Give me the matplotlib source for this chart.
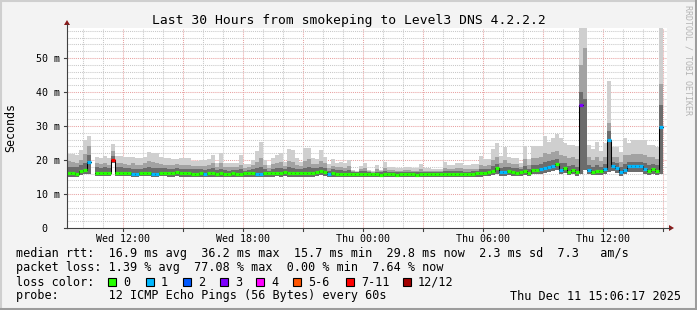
import numpy as np
import matplotlib
matplotlib.use('Agg')
from matplotlib import pyplot as plt
from matplotlib.patches import Rectangle, Polygon
from matplotlib.lines import Line2D

W, H = 697, 310
nan = np.nan

# time axis in hours since Wed 00:00, one rrd row every 12 minutes
t_start = 9.2
t_step = 0.2

# median rtt per row (ms)
median = [
    16.2, 16.2, 16.0, 16.8, 17.0, 19.3, nan, 16.3, 16.3, 16.3,
    16.3, 20.0, 16.3, 16.3, 16.2, 16.2, 16.0, 16.0, 16.2, 16.3,
    16.3, 16.0, 16.0, 16.3, 16.3, 16.2, 16.2, 16.5, 16.2, 16.2,
    16.2, 16.0, 16.0, 16.1, 15.8, 16.1, 16.1, 16.0, 16.1, 16.0,
    16.0, 16.1, 16.0, 16.0, 16.1, 16.1, 16.2, 16.0, 16.0, 16.2,
    16.1, 16.2, 16.3, 16.2, 16.4, 16.2, 16.2, 16.1, 16.1, 16.1,
    16.3, 16.3, 16.6, 16.9, 16.4, 15.9, 16.1, 16.0, 16.0, 16.0,
    16.0, 15.9, 15.9, 15.9, 15.9, 15.9, 15.8, 15.8, 15.7, 15.8,
    15.8, 15.8, 15.7, 15.8, 15.8, 15.8, 15.8, 15.7, 15.8, 15.8,
    15.8, 16.0, 16.0, 16.0, 16.0, 16.0, 16.0, 16.0, 16.0, 16.0,
    16.0, 16.0, 16.1, 16.1, 16.3, 16.6, 16.9, 17.5, 16.4, 16.4,
    16.9, 16.6, 16.3, 16.5, 16.9, 16.3, 17.1, 17.1, 17.3, 17.5,
    18.0, 18.3, 18.8, 17.1, 17.6, 16.6, 17.1, 16.4, 36.2, nan,
    17.1, 16.6, 16.9, 16.9, 17.4, 26.0, 18.1, 17.6, 16.4, 17.1,
    18.1, 18.1, 18.1, 18.1, 17.4, 16.9, 17.4, 16.9, 29.8,
]

# smoke envelope: max ping, upper edge of mid band, upper edge of dark band, min ping
smoke_max = [
    21.7, 21.7, 21.5, 22.9, 25.9, 27.1, nan, 21.0, 20.6, 21.2,
    20.6, 24.7, 21.3, 21.3, 21.0, 21.0, 21.0, 20.5, 20.6, 21.0,
    22.3, 22.0, 22.0, 20.8, 20.6, 20.6, 20.4, 20.4, 20.5, 20.5,
    20.5, 19.7, 19.7, 20.0, 20.0, 20.2, 21.5, 19.0, 22.1, 19.0,
    19.0, 19.0, 19.0, 21.5, 18.7, 18.7, 20.0, 22.5, 25.2, 20.0,
    18.5, 20.5, 21.5, 22.0, 19.5, 23.2, 22.9, 20.5, 19.5, 23.4,
    23.6, 20.5, 20.2, 22.9, 21.0, 18.7, 20.2, 19.0, 19.3, 19.0,
    20.0, 17.1, 16.8, 18.3, 19.0, 17.1, 16.8, 18.5, 17.1, 19.5,
    18.0, 17.8, 17.6, 17.6, 18.0, 18.0, 17.6, 17.6, 18.7, 17.6,
    17.6, 17.4, 17.4, 17.4, 19.5, 18.5, 18.5, 19.2, 19.2, 18.5,
    18.5, 18.7, 18.7, 21.2, 20.2, 20.2, 23.1, 25.1, 21.2, 23.9,
    21.0, 20.5, 20.7, 19.0, 24.1, 20.2, 24.1, 24.1, 24.1, 27.0,
    25.4, 26.4, 27.6, 26.4, 25.0, 24.5, 24.5, 24.0, 60.0, 60.0,
    24.5, 23.3, 25.4, 22.7, 25.0, 43.1, 23.7, 23.7, 22.2, 26.4,
    25.0, 25.9, 25.9, 25.9, 25.9, 24.5, 24.3, 23.7, 60.0,
]
smoke_mid = [
    19.6, 19.4, 19.2, 20.0, 21.8, 24.0, nan, 19.0, 18.8, 19.0,
    18.6, 22.5, 19.0, 19.2, 18.8, 18.6, 19.0, 18.6, 18.5, 19.0,
    19.8, 19.5, 19.2, 18.8, 18.6, 18.5, 18.4, 18.8, 18.5, 18.6,
    18.6, 18.2, 18.2, 18.3, 18.3, 18.5, 19.0, 17.8, 19.0, 17.9,
    17.8, 17.8, 17.9, 18.5, 17.6, 17.8, 18.4, 19.5, 20.5, 18.5,
    17.6, 18.8, 19.0, 19.3, 18.3, 19.8, 19.5, 18.6, 18.2, 19.8,
    20.2, 18.7, 18.8, 19.8, 19.0, 17.6, 18.3, 17.8, 18.0, 17.7,
    18.2, 16.8, 16.6, 17.4, 17.5, 16.8, 16.6, 17.3, 16.8, 17.6,
    17.1, 17.0, 16.9, 16.9, 17.1, 17.0, 16.9, 16.9, 17.3, 16.9,
    16.9, 16.9, 16.9, 16.9, 17.6, 17.3, 17.3, 17.5, 17.5, 17.2,
    17.2, 17.3, 17.3, 18.5, 18.3, 18.5, 20.0, 21.0, 19.0, 20.0,
    19.2, 18.8, 18.8, 18.0, 20.2, 18.5, 20.5, 20.5, 20.8, 22.0,
    21.8, 22.2, 22.6, 21.5, 21.2, 20.5, 20.8, 20.2, 48.0, 53.0,
    20.8, 20.0, 20.8, 19.8, 21.0, 31.0, 21.0, 20.8, 19.5, 21.5,
    21.5, 21.8, 21.8, 21.8, 21.5, 20.8, 20.8, 20.4, 42.3,
]
smoke_dark = [
    18.0, 18.0, 17.8, 18.5, 19.0, 21.5, nan, 17.8, 17.6, 17.8,
    17.5, 21.3, 17.8, 17.8, 17.6, 17.5, 17.4, 17.3, 17.4, 17.6,
    17.8, 17.5, 17.5, 17.5, 17.5, 17.4, 17.3, 17.6, 17.4, 17.4,
    17.4, 17.2, 17.2, 17.2, 17.0, 17.3, 17.5, 17.0, 17.4, 17.0,
    16.9, 17.0, 17.0, 17.2, 16.9, 17.0, 17.3, 17.6, 17.8, 17.4,
    16.9, 17.4, 17.6, 17.6, 17.4, 17.8, 17.6, 17.3, 17.2, 17.6,
    17.8, 17.5, 17.6, 18.0, 17.6, 16.9, 17.2, 17.0, 17.0, 16.9,
    17.1, 16.5, 16.4, 16.7, 16.8, 16.5, 16.3, 16.6, 16.4, 16.7,
    16.5, 16.5, 16.4, 16.4, 16.5, 16.5, 16.4, 16.4, 16.6, 16.4,
    16.4, 16.5, 16.5, 16.5, 16.8, 16.7, 16.7, 16.8, 16.8, 16.6,
    16.6, 16.7, 16.7, 17.2, 17.2, 17.4, 18.3, 18.8, 17.6, 17.8,
    18.0, 17.6, 17.5, 17.3, 18.2, 17.4, 18.5, 18.5, 18.8, 19.5,
    19.6, 20.0, 20.4, 19.0, 19.2, 18.3, 18.6, 18.0, 40.0, 38.0,
    18.6, 18.0, 18.4, 18.0, 18.8, 28.5, 19.4, 19.0, 17.8, 18.8,
    19.5, 19.5, 19.5, 19.5, 19.0, 18.5, 18.7, 18.4, 36.2,
]
smoke_min = [
    15.1, 15.1, 15.0, 15.5, 15.8, 16.0, nan, 15.3, 15.3, 15.3,
    15.3, 19.0, 15.2, 15.2, 15.2, 15.2, 15.0, 15.0, 15.2, 15.2,
    15.2, 15.0, 15.0, 15.2, 15.2, 15.1, 15.1, 15.3, 15.1, 15.1,
    15.1, 15.0, 15.0, 15.0, 14.9, 15.0, 15.0, 15.0, 15.0, 15.0,
    15.0, 15.0, 15.0, 15.0, 15.0, 15.0, 15.1, 15.0, 15.0, 15.1,
    15.0, 15.1, 15.2, 15.1, 15.3, 15.1, 15.1, 15.0, 15.0, 15.0,
    15.1, 15.1, 15.3, 15.5, 15.2, 15.0, 15.0, 15.0, 15.0, 15.0,
    15.0, 15.0, 15.0, 15.0, 15.0, 15.0, 15.0, 15.0, 15.0, 15.0,
    15.0, 15.0, 15.0, 15.0, 15.0, 15.0, 15.0, 15.0, 15.0, 15.0,
    15.0, 15.1, 15.1, 15.1, 15.1, 15.1, 15.1, 15.1, 15.1, 15.1,
    15.1, 15.1, 15.1, 15.1, 15.2, 15.4, 15.6, 16.0, 15.2, 15.2,
    15.5, 15.4, 15.2, 15.4, 15.6, 15.2, 15.8, 15.8, 16.0, 16.2,
    16.5, 16.8, 17.0, 15.8, 16.2, 15.5, 15.8, 15.4, 15.8, 17.0,
    15.8, 15.5, 15.6, 15.6, 16.0, 16.5, 16.8, 16.3, 15.4, 15.8,
    16.6, 16.6, 16.6, 16.6, 16.0, 15.6, 16.0, 15.6, 16.0,
]
# loss colour class per row (index into loss_labels)
loss_class = [
    0, 0, 0, 0, 0, 1, 0, 0, 0, 0,
    0, 6, 0, 0, 0, 0, 1, 1, 0, 0,
    0, 1, 1, 0, 0, 0, 0, 0, 0, 0,
    0, 0, 0, 0, 1, 0, 0, 0, 0, 0,
    0, 0, 0, 0, 0, 0, 0, 1, 1, 0,
    0, 0, 0, 0, 0, 0, 0, 0, 0, 0,
    0, 0, 0, 0, 0, 1, 0, 0, 0, 0,
    0, 0, 0, 0, 0, 0, 0, 0, 0, 0,
    0, 0, 0, 0, 0, 0, 0, 0, 0, 0,
    0, 0, 0, 0, 0, 0, 0, 0, 0, 0,
    0, 0, 0, 0, 0, 0, 0, 0, 1, 1,
    0, 0, 0, 0, 0, 0, 0, 0, 1, 1,
    1, 1, 0, 1, 0, 0, 0, 0, 3, 0,
    1, 0, 0, 0, 1, 1, 1, 1, 1, 1,
    1, 1, 1, 1, 1, 0, 0, 0, 1,
]
loss_labels = ['0', '1', '2', '3', '4', '5-6', '7-11', '12/12']
loss_colors = ['#26ff00', '#00b8ff', '#0059ff', '#7e00ff', '#ff00ff',
               '#ff5500', '#ff0000', '#a10000']

xtick_hours = [12, 18, 24, 30, 36]
xtick_labels = ['Wed 12:00', 'Wed 18:00', 'Thu 00:00', 'Thu 06:00', 'Thu 12:00']
ytick_values = [0, 10, 20, 30, 40, 50]
ytick_labels = ['0  ', '10 m', '20 m', '30 m', '40 m', '50 m']

title = 'Last 30 Hours from smokeping to Level3 DNS 4.2.2.2'
legend_lines = [
    'median rtt:  16.9 ms avg  36.2 ms max  15.7 ms min  29.8 ms now  2.3 ms sd  7.3   am/s',
    'packet loss: 1.39 % avg  77.08 % max  0.00 % min  7.64 % now',
]
probe_text = 'probe:       12 ICMP Echo Pings (56 Bytes) every 60s'
stamp = 'Thu Dec 11 15:06:17 2025'

MONO = 'DejaVu Sans Mono'


def fx(x):
    return x / W


def fy(y):
    return 1 - y / H


med = np.array(median)
hi = np.array(smoke_max)
mid = np.array(smoke_mid)
dark = np.array(smoke_dark)
lo = np.array(smoke_min)
t = t_start + t_step * np.arange(len(med))

ymax = 58.8
fig = plt.figure(figsize=(W / 100, H / 100), dpi=100, facecolor='#f3f3f3')
ax = fig.add_axes([fx(67), fy(228), 600 / W, 200 / H])
ax.set_facecolor('white')
ax.set_xlim(t_start, t_start + 30)
ax.set_ylim(0, ymax)
for s in ax.spines.values():
    s.set_visible(False)
ax.set_xticks([])
ax.set_yticks([])

# grid (behind the smoke)
dots = (0, (1, 1))
for h in range(10, 40):
    major = h % 3 == 0
    ax.axvline(h, color='#e8a2a2' if major else '#c8c8c8', lw=0.75,
               ls=dots, zorder=0.5)
for v in range(2, 59, 2):
    major = v % 10 == 0
    ax.axhline(v, color='#e8a2a2' if major else '#c8c8c8', lw=0.75,
               ls=dots, zorder=0.5)

# smoke
for top, col in [(hi, '#cfcfcf'), (mid, '#a2a2a2'), (dark, '#6c6c6c')]:
    ax.bar(t, np.minimum(top, ymax) - lo, width=t_step, bottom=lo, align='edge',
           color=col, linewidth=0, antialiased=False, zorder=1)

# median line
ax.step(np.append(t, t[-1] + t_step), np.append(med, med[-1]), where='post',
        color='black', lw=0.75, zorder=3)
ax.hlines(med, t, t + t_step, colors=[loss_colors[k] for k in loss_class],
          lw=2.3, capstyle='butt', zorder=4)

# axes with arrows
ax_col = '#404040'
fig.add_artist(Line2D([fx(67), fx(67)], [fy(228), fy(24)], color=ax_col, lw=0.8))
fig.add_artist(Line2D([fx(67), fx(670)], [fy(228), fy(228)], color=ax_col, lw=0.8))
fig.add_artist(Polygon([(fx(64), fy(25)), (fx(70), fy(25)), (fx(67), fy(20))],
                       closed=True, color='#8b1a1a', lw=0))
fig.add_artist(Polygon([(fx(669), fy(225)), (fx(669), fy(231)), (fx(674), fy(228))],
                       closed=True, color='#8b1a1a', lw=0))
for h in range(12, 40, 3):
    x = 67 + (h - t_start) * 20
    fig.add_artist(Line2D([fx(x), fx(x)], [fy(228), fy(231)], color=ax_col, lw=0.8))
for v in ytick_values:
    y = 228 - v * 200 / ymax
    fig.add_artist(Line2D([fx(64), fx(67)], [fy(y), fy(y)], color=ax_col, lw=0.8))

# tick labels
for h, lab in zip(xtick_hours, xtick_labels):
    x = 67 + (h - t_start) * 20
    fig.text(fx(x), fy(242), lab, ha='center', va='baseline', size=7.2, family=MONO)
for v, lab in zip(ytick_values, ytick_labels):
    y = 228 - v * 200 / ymax
    fig.text(fx(60), fy(y + 3.6), lab, ha='right', va='baseline', size=7.2, family=MONO)

fig.text(fx(348.5), fy(24.3), title, ha='center', va='baseline', size=9.4, family=MONO)
fig.text(fx(11), fy(128), 'Seconds', ha='center', va='center', rotation=90,
         size=8.4, family=MONO)
fig.text(fx(688), fy(5), 'RRDTOOL / TOBI OETIKER', ha='center', va='top',
         rotation=270, size=6.0, family=MONO, color='#b4b4b4')

# legend
fig.text(fx(16), fy(257.5), legend_lines[0], ha='left', va='baseline', size=8.45, family=MONO)
fig.text(fx(16), fy(271.5), legend_lines[1], ha='left', va='baseline', size=8.45, family=MONO)
fig.text(fx(16), fy(285.5), 'loss color:', ha='left', va='baseline', size=8.45, family=MONO)
box_x = [108, 146, 183, 220, 256, 293, 346, 403]
for bx, lab, col in zip(box_x, loss_labels, loss_colors):
    fig.add_artist(Rectangle((fx(bx), fy(286)), 8 / W, 8 / H, facecolor=col,
                             edgecolor='black', lw=0.8))
    fig.text(fx(bx + 15), fy(285.5), lab, ha='left', va='baseline', size=8.45, family=MONO)
fig.text(fx(16), fy(299.5), probe_text, ha='left', va='baseline', size=8.45, family=MONO)
fig.text(fx(681), fy(299.5), stamp, ha='right', va='baseline', size=8.45, family=MONO)

# frame
fig.add_artist(Line2D([0, 1], [fy(1), fy(1)], color='#cfcfcf', lw=1.5))
fig.add_artist(Line2D([fx(1), fx(1)], [0, 1], color='#cfcfcf', lw=1.5))
fig.add_artist(Line2D([0, 1], [fy(308.5), fy(308.5)], color='#9c9c9c', lw=2.2))
fig.add_artist(Line2D([fx(695.5), fx(695.5)], [0, 1], color='#9c9c9c', lw=2.2))

fig.savefig('out.png', dpi=100, facecolor=fig.get_facecolor())
